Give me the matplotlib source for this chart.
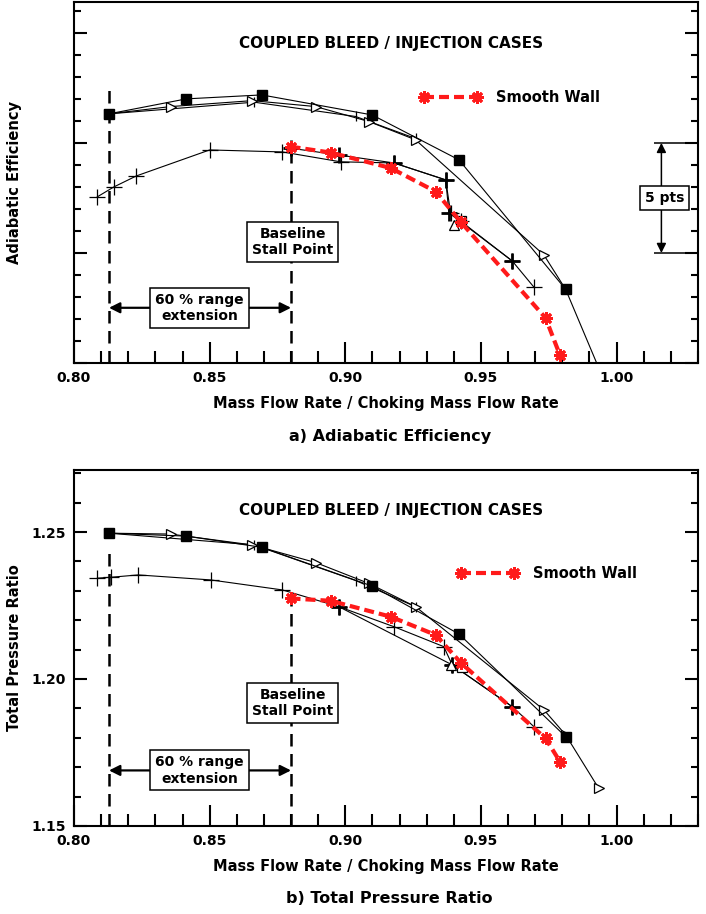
import matplotlib.pyplot as plt
from matplotlib.ticker import MultipleLocator, FormatStrFormatter, NullFormatter

plt.rcParams['font.family'] = ['DejaVu Sans']
plt.rcParams['font.weight'] = 'bold'
plt.rcParams['axes.labelweight'] = 'bold'

# filled squares
sq_x = [0.8129, 0.8414, 0.8692, 0.9099, 0.9419, 0.9812]
sq_eff = [11.32, 12.00, 12.18, 11.27, 9.23, 3.35]
sq_pr = [1.2496, 1.2486, 1.2448, 1.2316, 1.2153, 1.1804]

# open right triangles
tri_x = [0.8129, 0.8356, 0.8657, 0.8891, 0.9087, 0.9259, 0.9732, 0.9812, 0.9934]
tri_eff = [11.32, 11.65, 11.92, 11.65, 10.97, 10.14, 4.91, 3.35, -0.22]
tri_pr = [1.2496, 1.2493, 1.2456, 1.2396, 1.2325, 1.2246, 1.1895, 1.1810, 1.1628]

# thin ticks, third upper case
tk_x = [0.8129, 0.8664, 0.9038, 0.9259]
tk_eff = [11.32, 11.85, 11.20, 10.20]
tk_pr = [1.2496, 1.2456, 1.2335, 1.2246]

# thin plus, lower case
pl_x_a = [0.8086, 0.8147, 0.8230, 0.8500, 0.8768, 0.8983, 0.9179, 0.9370, 0.9388, 0.9425, 0.9615, 0.9695]
pl_eff = [7.55, 8.00, 8.50, 9.68, 9.59, 9.14, 9.09, 8.32, 6.82, 6.45, 4.64, 3.45]
pl_x_b = [0.8086, 0.8135, 0.8237, 0.8504, 0.8768, 0.8976, 0.9179, 0.9363, 0.9394, 0.9615, 0.9695]
pl_pr = [1.2343, 1.2346, 1.2354, 1.2337, 1.2303, 1.2246, 1.2178, 1.2110, 1.2048, 1.1906, 1.1838]

# thick plus
tp_x_a = [0.8798, 0.8976, 0.9179, 0.9370, 0.9382, 0.9615]
tp_eff = [9.76, 9.45, 9.09, 8.32, 6.82, 4.64]
tp_x_b = [0.8976, 0.9394, 0.9615]
tp_pr = [1.2246, 1.2048, 1.1906]

# single open square / open triangle points
os_x = [0.9425, 0.9431]
os_eff = [6.45]
os_pr = [1.2042]
ot_x = [0.9400, 0.9388]
ot_eff = [6.27]
ot_pr = [1.2048]

# smooth wall
red_x = [0.8798, 0.8946, 0.9167, 0.9333, 0.9426, 0.9738, 0.9791]
red_eff = [9.83, 9.56, 8.86, 7.79, 6.40, 2.05, 0.36]
red_pr = [1.2274, 1.2266, 1.2212, 1.2150, 1.2055, 1.1798, 1.1719]

stall_x = 0.88
ext_x = 0.8129

fig = plt.figure(figsize=(7.06, 9.14), dpi=100)
ax1 = fig.add_axes([0.1048, 0.6028, 0.8839, 0.395])
ax2 = fig.add_axes([0.1048, 0.0963, 0.8839, 0.3895])

box = dict(boxstyle='square,pad=0.35', fc='white', ec='black', lw=1.1)


def draw_panel(ax, xa, xb, sq, tri, tk, pl, tp, osq, otr, red, ylims):
    ax.plot(tk_x, tk, color='k', lw=0.8, marker='|', ms=7, mew=0.9)
    ax.plot(tri_x, tri, color='k', lw=0.8, marker='>', ms=7, mfc='white', mew=0.9)
    ax.plot(sq_x, sq, color='k', lw=0.8, marker='s', ms=7)
    ax.plot(xa, pl, color='k', lw=0.8, marker='+', ms=11, mew=0.9)
    ax.plot(xb, tp, color='k', lw=0.8, marker='+', ms=11, mew=2)
    ax.plot(osq[0], osq[1], ls='none', marker='s', ms=7, mfc='white', mec='k', mew=0.9)
    ax.plot(otr[0], otr[1], ls='none', marker='^', ms=7, mfc='white', mec='k', mew=0.9)
    ax.plot(red_x, red, color='#ff1a1a', lw=3, dashes=(2.4, 1.2),
            marker=(8, 2, 0), ms=9, mew=2, label='Smooth Wall', zorder=5)

    ax.set_xlim(0.80, 1.03)
    ax.set_ylim(*ylims)
    ax.xaxis.set_major_locator(MultipleLocator(0.05))
    ax.xaxis.set_minor_locator(MultipleLocator(0.01))
    ax.xaxis.set_major_formatter(FormatStrFormatter('%.2f'))
    ax.tick_params(which='both', direction='in', right=True, width=1.5, labelsize=10, pad=6)
    ax.tick_params(axis='x', which='major', length=15)
    ax.tick_params(axis='x', which='minor', length=8.5)
    ax.tick_params(axis='y', which='major', length=9.5)
    ax.tick_params(axis='y', which='minor', length=5)
    for sp in ax.spines.values():
        sp.set_linewidth(1.5)
    ax.set_xlabel('Mass Flow Rate / Choking Mass Flow Rate', fontsize=10.5, labelpad=8)
    ax.yaxis.set_label_coords(-0.083, 0.5)
    ax.text(0.917, ylims[0] + (ylims[1] - ylims[0]) * 0.886, 'COUPLED BLEED / INJECTION CASES',
            ha='center', va='center', fontsize=11)


draw_panel(ax1, pl_x_a, tp_x_a, sq_eff, tri_eff, tk_eff, pl_eff, tp_eff,
           (os_x[0], os_eff), (ot_x[0], ot_eff), red_eff, (0, 16.4))
draw_panel(ax2, pl_x_b, tp_x_b, sq_pr, tri_pr, tk_pr, pl_pr, tp_pr,
           (os_x[1], os_pr), (ot_x[1], ot_pr), red_pr, (1.15, 1.2711))

# top panel extras
ax1.yaxis.set_major_locator(MultipleLocator(5))
ax1.yaxis.set_minor_locator(MultipleLocator(1))
ax1.yaxis.set_major_formatter(NullFormatter())
ax1.set_ylabel('Adiabatic Efficiency', fontsize=10.5)
ax1.vlines(ext_x, 0, 12.7, colors='k', linestyles=(0, (5, 3)), lw=1.8)
ax1.vlines(stall_x, 0, 9.7, colors='k', linestyles=(0, (5, 3)), lw=1.8)
ax1.text(0.8807, 5.5, 'Baseline\nStall Point', ha='center', va='center', fontsize=10, bbox=box, zorder=6)
ax1.annotate('', xy=(ext_x, 2.51), xytext=(stall_x, 2.51),
             arrowprops=dict(arrowstyle='<|-|>', color='k', lw=1.6, mutation_scale=16, shrinkA=0, shrinkB=0))
ax1.text(0.8462, 2.51, '60 % range\nextension', ha='center', va='center', fontsize=10, bbox=box, zorder=6)
ax1.hlines([5, 10], 1.0137, 1.03, colors='k', lw=1.1)
ax1.annotate('', xy=(1.0165, 10), xytext=(1.0165, 5),
             arrowprops=dict(arrowstyle='<|-|>', color='k', lw=1.1, mutation_scale=14, shrinkA=0, shrinkB=0))
ax1.text(1.0178, 7.5, '5 pts', ha='center', va='center', fontsize=10, bbox=box, zorder=6)
ax1.legend(loc='center left', bbox_to_anchor=(0.5545, 0.735), frameon=False, fontsize=10.5,
           handlelength=4.2, handletextpad=1.0, borderpad=0, borderaxespad=0, numpoints=2)

# bottom panel extras
ax2.yaxis.set_major_locator(MultipleLocator(0.05))
ax2.yaxis.set_minor_locator(MultipleLocator(0.01))
ax2.yaxis.set_major_formatter(FormatStrFormatter('%.2f'))
ax2.set_ylabel('Total Pressure Ratio', fontsize=10.5)
ax2.yaxis.set_label_coords(-0.083, 0.5)
ax2.vlines(ext_x, 1.15, 1.2449, colors='k', linestyles=(0, (5, 3)), lw=1.8)
ax2.vlines(stall_x, 1.15, 1.2265, colors='k', linestyles=(0, (5, 3)), lw=1.8)
ax2.text(0.8807, 1.1918, 'Baseline\nStall Point', ha='center', va='center', fontsize=10, bbox=box, zorder=6)
ax2.annotate('', xy=(ext_x, 1.1689), xytext=(stall_x, 1.1689),
             arrowprops=dict(arrowstyle='<|-|>', color='k', lw=1.6, mutation_scale=16, shrinkA=0, shrinkB=0))
ax2.text(0.8462, 1.1689, '60 % range\nextension', ha='center', va='center', fontsize=10, bbox=box, zorder=6)
ax2.legend(loc='center left', bbox_to_anchor=(0.6133, 0.7098), frameon=False, fontsize=10.5,
           handlelength=4.2, handletextpad=1.0, borderpad=0, borderaxespad=0, numpoints=2)

fig.text(0.552, 0.522, 'a) Adiabatic Efficiency', ha='center', va='center', fontsize=11.5)
fig.text(0.552, 0.0175, 'b) Total Pressure Ratio', ha='center', va='center', fontsize=11.5)

fig.savefig('out.png', dpi=100)
